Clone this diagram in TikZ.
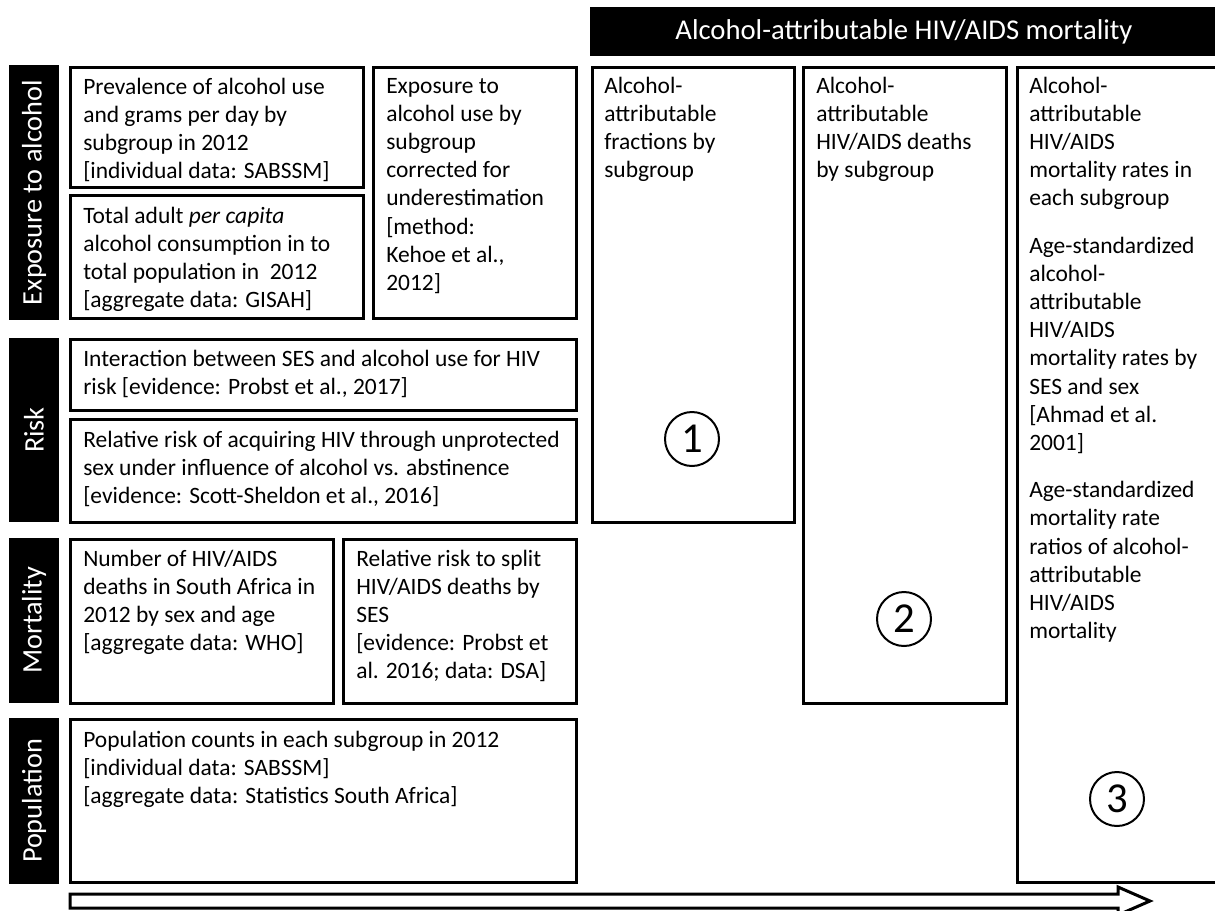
\documentclass[tikz,border=0pt]{standalone}
\usepackage{fontspec}
\setmainfont{Carlito}
\newcommand{\lns}[1]{\begin{tabular}[t]{@{}l@{}}#1\end{tabular}}
\begin{document}
\begin{tikzpicture}[x=0.75pt,y=-0.75pt,
  bar/.style={fill=black, inner sep=0pt, minimum width=37.5pt},
  box/.style={draw, line width=2.25pt, inner sep=0pt},
  hdr/.style={fill=black, inner sep=0pt},
  txt/.style={anchor=base west, inner sep=0pt, font=\fontsize{17.6}{21.15}\selectfont},
  lbl/.style={text=white, rotate=90, inner sep=0pt, font=\fontsize{21.2}{25}\selectfont},
  circnum/.style={draw, circle, line width=1.5pt, minimum size=40.5pt, inner sep=0pt, font=\fontsize{32}{32}\selectfont}]
\useasboundingbox (0,0) rectangle (1215,911);

% header
\node[hdr, minimum width=471pt, minimum height=36.75pt] (hdr) at (904,31.5) {};
\node[text=white, font=\fontsize{21.5}{25}\selectfont] (hdrt) at (904,31.5) {Alcohol-attributable HIV/AIDS mortality};

% left label bars
\node[bar, minimum height=191.25pt] (ebar) at (34,192.5) {};
\node[lbl] (elbl) at (34,192.5) {Exposure to alcohol};
\node[bar, minimum height=138pt] (rbar) at (34,430) {};
\node[lbl] (rlbl) at (34,430) {Risk};
\node[bar, minimum height=123.75pt] (mbar) at (34,620.5) {};
\node[lbl] (mlbl) at (34,620.5) {Mortality};
\node[bar, minimum height=124.5pt] (pbar) at (34,801) {};
\node[lbl] (plbl) at (34,801) {Population};

% input boxes
\node[box, minimum width=219.75pt, minimum height=90pt] (prev) at (216.5,127) {};
\node[txt] (prevt) at (83,94) {\lns{Prevalence of alcohol use\\and grams per day by\\subgroup in 2012\\{[}individual data: SABSSM{]}}};

\node[box, minimum width=219.75pt, minimum height=92.25pt] (total) at (216.5,256.5) {};
\node[txt] (totalt) at (83,223) {\lns{Total adult \textit{per capita}\\alcohol consumption in to\\total population in\ \ 2012\\{[}aggregate data: GISAH{]}}};

\node[box, minimum width=152.25pt, minimum height=188.25pt] (expo) at (474.5,192.5) {};
\node[txt] (expot) at (386,93) {\lns{Exposure to\\alcohol use by\\subgroup\\corrected for\\underestimation\\{[}method:\\Kehoe et al.,\\2012{]}}};

\node[box, minimum width=379.5pt, minimum height=53.25pt] (inter) at (323,374.5) {};
\node[txt] (intert) at (83,366) {\lns{Interaction between SES and alcohol use for HIV\\risk {[}evidence: Probst et al., 2017{]}}};

\node[box, minimum width=379.5pt, minimum height=77.25pt] (rel) at (323,470.5) {};
\node[txt] (relt) at (83,447) {\lns{Relative risk of acquiring HIV through unprotected\\sex under influence of alcohol vs. abstinence\\{[}evidence: Scott-Sheldon et al., 2016{]}}};

\node[box, minimum width=197.25pt, minimum height=123pt] (num) at (201.5,621) {};
\node[txt] (numt) at (83,566) {\lns{Number of HIV/AIDS\\deaths in South Africa in\\2012 by sex and age\\{[}aggregate data: WHO{]}}};

\node[box, minimum width=174.75pt, minimum height=123pt] (split) at (459.5,621) {};
\node[txt] (splitt) at (356,566) {\lns{Relative risk to split\\HIV/AIDS deaths by\\SES\\{[}evidence: Probst et\\al. 2016; data: DSA{]}}};

\node[box, minimum width=379.5pt, minimum height=122.25pt] (pop) at (323,800.5) {};
\node[txt] (popt) at (83,747) {\lns{Population counts in each subgroup in 2012\\{[}individual data: SABSSM{]}\\{[}aggregate data: Statistics South Africa{]}}};

% output columns
\node[box, minimum width=151.5pt, minimum height=341.25pt] (col1) at (693,294.5) {};
\node[txt] (col1t) at (604,93) {\lns{Alcohol-\\attributable\\fractions by\\subgroup}};
\node[circnum] (c1) at (692,439) {1};

\node[box, minimum width=152.25pt, minimum height=477pt] (col2) at (904.5,385) {};
\node[txt] (col2t) at (816,93) {\lns{Alcohol-\\attributable\\HIV/AIDS deaths\\by subgroup}};
\node[circnum] (c2) at (904,619) {2};

\node[box, minimum width=167.25pt, minimum height=611.25pt] (col3) at (1128.5,474.5) {};
\node[txt] (col3t) at (1029,93) {\lns{Alcohol-\\attributable\\HIV/AIDS\\mortality rates in\\each subgroup\\[14.25pt]Age-standardized\\alcohol-\\attributable\\HIV/AIDS\\mortality rates by\\SES and sex\\{[}Ahmad et al.\\2001{]}\\[14.25pt]Age-standardized\\mortality rate\\ratios of alcohol-\\attributable\\HIV/AIDS\\mortality}};
\node[circnum] (c3) at (1117,799) {3};

% flow arrow
\coordinate (arrS) at (70,901);
\coordinate (arrE) at (1150,901);
\draw[line width=2.25pt, line join=miter]
  ([yshift=5.25pt]arrS) -- ([xshift=-24pt,yshift=5.25pt]arrE) -- ([xshift=-24pt,yshift=10.5pt]arrE)
  -- (arrE) -- ([xshift=-24pt,yshift=-10.5pt]arrE) -- ([xshift=-24pt,yshift=-5.25pt]arrE)
  -- ([yshift=-5.25pt]arrS) -- cycle;
\end{tikzpicture}
\end{document}
